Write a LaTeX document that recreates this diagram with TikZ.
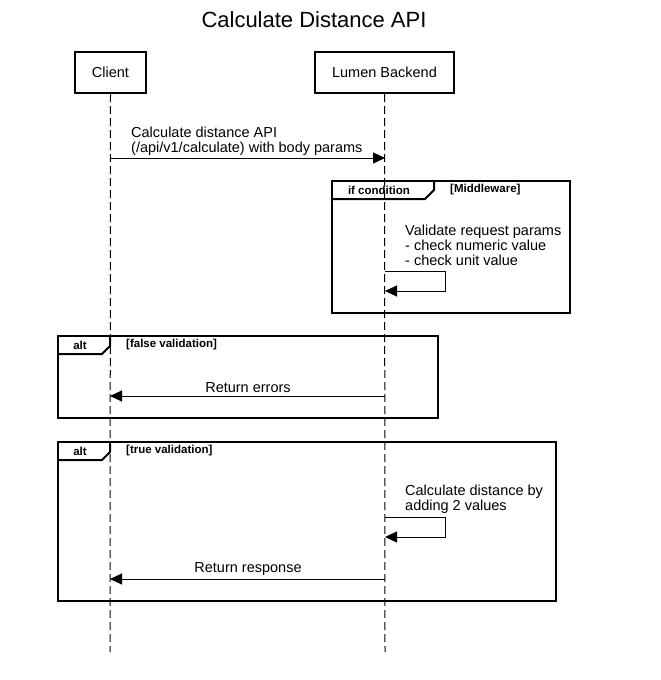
\documentclass[tikz,border=0pt]{standalone}
\usepackage{fontspec}
\setmainfont{Liberation Sans}
\usetikzlibrary{positioning,arrows.meta,calc}
\tikzset{actor/.style={draw,line width=2pt,minimum width=71pt,minimum height=41pt,inner sep=0pt,font=\fontsize{14.5}{16}\selectfont}}
\tikzset{lifeline/.style={dash pattern=on 8pt off 4pt,line width=1pt}}
\tikzset{msg/.style={-{Triangle[length=12pt,width=11pt]},line width=1pt}}
\tikzset{frame/.style={line width=2pt}}
\tikzset{msgtext/.style={inner sep=0pt,align=left,font=\fontsize{14.5}{15}\selectfont}}
\tikzset{tabtext/.style={inner sep=0pt,font=\bfseries\fontsize{11.5}{13}\selectfont}}

\begin{document}
\begin{tikzpicture}[x=1pt,y=-1pt]
	\useasboundingbox (0,0) rectangle (661,680);
	\node (title) at (314,20) {\fontsize{22}{26}\selectfont Calculate Distance API};

	% participants and lifelines
	\node[actor] (client) at (110.5,72.5) {Client};
	\node[actor,minimum width=139pt] (backend) at (384.5,72.5) {Lumen Backend};
	\coordinate (clientend) at (110,652);
	\coordinate (backendend) at (385,652);
	\draw[lifeline] (client.south) -- (clientend);
	\draw[lifeline] (backend.south) -- (backendend);

	% request
	\coordinate (reqa) at (110,158);
	\coordinate (reqb) at (385,158);
	\draw[msg] (reqa) -- (reqb);
	\node[msgtext,anchor=south west] (reqlabel) at (131,156) {Calculate distance API\\(/api/v1/calculate) with body params};

	%% Middleware block
	\draw[frame] (332,181) rectangle (570,313);
	\draw[frame] (332,199) -- (425,199) -- (434,190) -- (434,181);
	\node[tabtext] (ifcond) at (379,190) {if condition};
	\node[tabtext,anchor=west] (mwguard) at (450,190) {[Middleware]};
	\coordinate (vala) at (385,271);
	\coordinate (valb) at (385,291);
	\draw[msg] (vala) -- ++(60,0) |- (valb);
	\node[msgtext,anchor=south west] (vallabel) at (405,266) {Validate request params\\- check numeric value\\- check unit value};

	%% alt: false validation
	\draw[frame] (58,336) rectangle (438,418);
	\draw[frame] (58,354) -- (102,354) -- (110,346) -- (110,336);
	\node[tabtext] (altone) at (80,345) {alt};
	\node[tabtext,anchor=west] (falseguard) at (126,345) {[false validation]};
	\coordinate (erra) at (385,396);
	\coordinate (errb) at (110,396);
	\draw[msg] (erra) -- (errb);
	\node[msgtext,anchor=south] (errlabel) at (248,393) {Return errors};

	%% alt: true validation
	\draw[frame] (58,442) rectangle (556,601);
	\draw[frame] (58,460) -- (102,460) -- (110,452) -- (110,442);
	\node[tabtext] (alttwo) at (80,451) {alt};
	\node[tabtext,anchor=west] (trueguard) at (126,451) {[true validation]};
	\coordinate (calca) at (385,517);
	\coordinate (calcb) at (385,537);
	\draw[msg] (calca) -- ++(60,0) |- (calcb);
	\node[msgtext,anchor=south west] (calclabel) at (405,514) {Calculate distance by\\adding 2 values};
	\coordinate (resa) at (385,579);
	\coordinate (resb) at (110,579);
	\draw[msg] (resa) -- (resb);
	\node[msgtext,anchor=south] (reslabel) at (248,576) {Return response};
\end{tikzpicture}
\end{document}
